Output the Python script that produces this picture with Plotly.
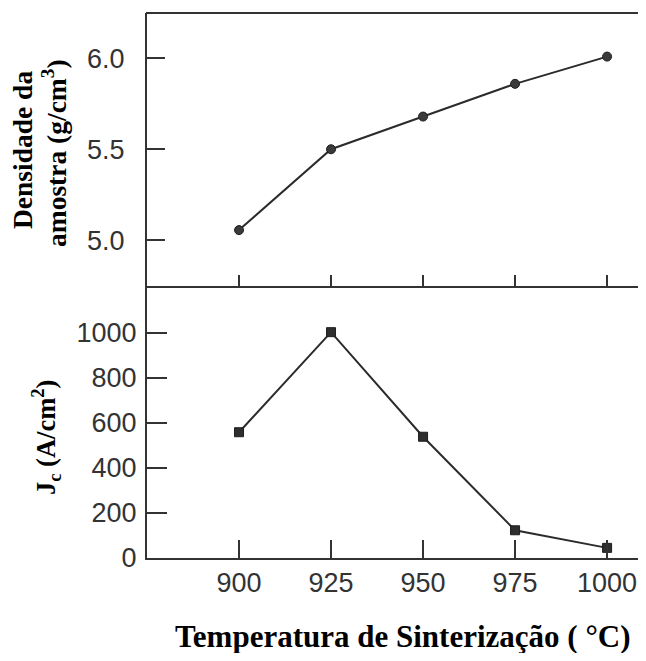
import plotly.graph_objects as go

temps = [900, 925, 950, 975, 1000]
densidade = [5.055, 5.50, 5.68, 5.86, 6.01]
jc = [558, 1002, 538, 123, 45]
x_ticks = [900, 925, 950, 975, 1000]
dens_ticks = [5.0, 5.5, 6.0]
dens_ticktext = ["5.0", "5.5", "6.0"]
jc_ticks = [0, 200, 400, 600, 800, 1000]

ink = "#2b2b2b"
tickfont = dict(family="Liberation Sans, Arial, sans-serif", size=27, color="#333333")
serif_bold = dict(family="Liberation Serif, Times New Roman, serif", size=27.5, color="#000000", weight="bold")

fig = go.Figure()
fig.add_trace(go.Scatter(
    x=temps, y=densidade, xaxis="x", yaxis="y", mode="lines+markers",
    line=dict(color=ink, width=2),
    marker=dict(symbol="circle", size=9, color="#3a3a3a", line=dict(color="#1e1e1e", width=1)),
    showlegend=False, cliponaxis=False))
fig.add_trace(go.Scatter(
    x=temps, y=jc, xaxis="x2", yaxis="y2", mode="lines+markers",
    line=dict(color=ink, width=2),
    marker=dict(symbol="square", size=9, color="#2e2e2e", line=dict(color="#1e1e1e", width=1)),
    showlegend=False, cliponaxis=False))

# plot area spans page x 147..638 (491 px, 25 units per 92 px)
xrange = [875, 1008.4]
common_axis = dict(showgrid=False, zeroline=False, showline=True, linewidth=2,
                   linecolor="#333333", ticks="inside", tickwidth=2, tickcolor="#333333")

# page has an 8px body margin: figure is placed at (8, 8)
fig.update_layout(
    width=630, height=645,
    margin=dict(l=139, r=0, t=5, b=95),
    paper_bgcolor="white", plot_bgcolor="white",
    xaxis=dict(domain=[0, 1], anchor="y", range=xrange, tickvals=x_ticks,
               showticklabels=False, ticklen=11, **common_axis),
    yaxis=dict(domain=[0.5, 1], anchor="x", range=[4.75, 6.25], tickvals=dens_ticks,
               ticktext=dens_ticktext, ticklen=18, tickfont=tickfont,
               ticklabelstandoff=15, **common_axis),
    xaxis2=dict(domain=[0, 1], anchor="y2", range=xrange, tickvals=x_ticks,
                ticklen=18, tickfont=tickfont, **common_axis),
    yaxis2=dict(domain=[0, 0.5], anchor="x2", range=[0, 1209], tickvals=jc_ticks,
                ticklen=20, tickfont=tickfont, ticklabelstandoff=3, **common_axis),
)

# top frame line of the upper panel
fig.add_shape(type="line", xref="paper", yref="paper", x0=-0.002, x1=1.0, y0=1, y1=1,
              line=dict(color="#333333", width=2))

PLOT_W = 491.0

def px_x(px):
    return (px - 147) / PLOT_W

def px_y(py):
    return (558 - py) / 545.0

fig.add_annotation(text="Densidade da", xref="paper", yref="paper",
                   x=px_x(23), y=px_y(150), textangle=-90, showarrow=False,
                   xanchor="center", yanchor="middle", font=serif_bold)
fig.add_annotation(text="amostra (g/cm<sup>3</sup>)", xref="paper", yref="paper",
                   x=px_x(54), y=px_y(153), textangle=-90, showarrow=False,
                   xanchor="center", yanchor="middle", font=serif_bold)
fig.add_annotation(text="J<sub>c</sub> (A/cm<sup>2</sup>)", xref="paper", yref="paper",
                   x=px_x(46), y=px_y(438), textangle=-90, showarrow=False,
                   xanchor="center", yanchor="middle", font=dict(serif_bold, size=26.5))
fig.add_annotation(text="Temperatura de Sinterização ( °C)", xref="paper", yref="paper",
                   x=px_x(403), y=px_y(636), showarrow=False,
                   xanchor="center", yanchor="middle",
                   font=dict(serif_bold, size=31))

fig.write_html("out.html")
